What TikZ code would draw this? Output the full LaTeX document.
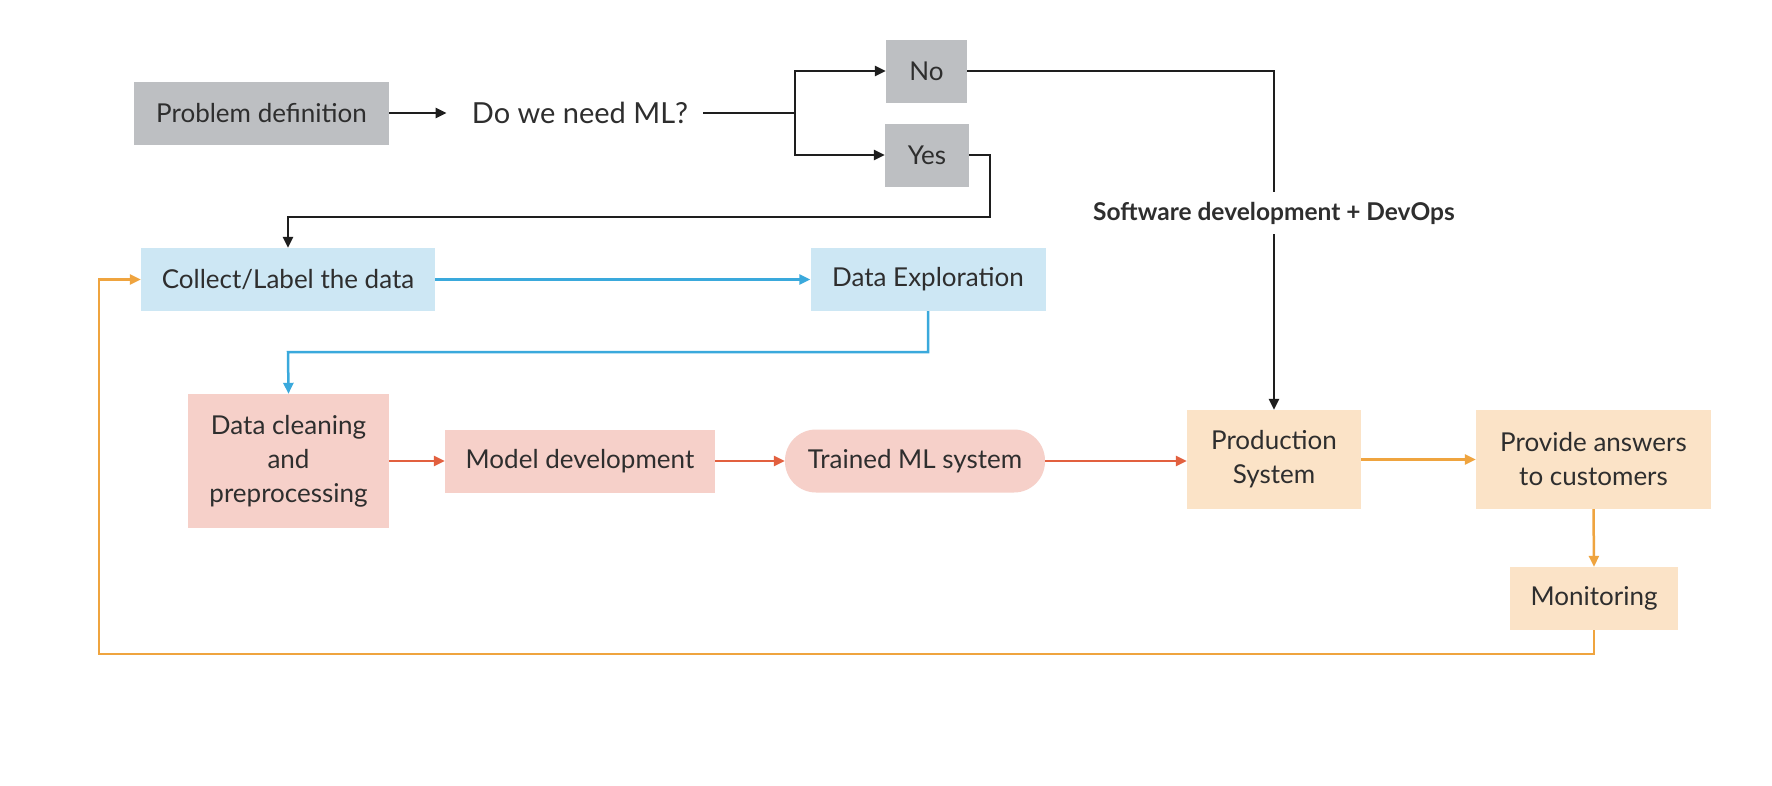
\documentclass[tikz,border=0pt]{standalone}
\usepackage{fontspec}
\setmainfont{Lato}
\usetikzlibrary{arrows.meta}
\definecolor{grayfill}{HTML}{BDBFC2}
\definecolor{bluefill}{HTML}{CDE7F4}
\definecolor{pinkfill}{HTML}{F6D0C9}
\definecolor{peachfill}{HTML}{FBE3C7}
\definecolor{bluearrow}{HTML}{3AA9DC}
\definecolor{redarrow}{HTML}{E2603F}
\definecolor{orangearrow}{HTML}{EFA43F}
\definecolor{txt}{HTML}{2E2E2E}
\definecolor{darkline}{HTML}{1E1E1E}
\tikzset{
  box/.style={rectangle, inner sep=0pt, align=center, text=txt,
    font=\fontsize{26}{34}\selectfont},
  conn/.style={line width=2.5pt, -{Triangle[length=11pt,width=10pt]}},
  plain/.style={line width=2.5pt},
}
\begin{document}
\begin{tikzpicture}[x=1pt,y=-1pt]
\useasboundingbox (0,0) rectangle (1772,785);
\fill[white] (0,0) rectangle (1772,785);
% nodes
\node[box, fill=grayfill, minimum width=255pt, minimum height=63pt] (pd) at (261.5,113) {Problem definition};
\node[box, font=\fontsize{29}{34}\selectfont, text=txt] (q) at (580,113) {Do we need ML?};
\node[box, fill=grayfill, minimum width=81pt, minimum height=63pt] (no) at (926.5,71) {No};
\node[box, fill=grayfill, minimum width=84pt, minimum height=63pt] (yes) at (927,155) {Yes};
\node[box, fill=bluefill, minimum width=294pt, minimum height=63pt] (collect) at (288,279.5) {Collect/Label the data};
\node[box, fill=bluefill, minimum width=235pt, minimum height=63pt] (explore) at (928,279.5) {Data Exploration};
\node[box, fill=pinkfill, minimum width=201pt, minimum height=134pt] (clean) at (288.5,461) {Data cleaning\\and\\preprocessing};
\node[box, fill=pinkfill, minimum width=270pt, minimum height=63pt] (model) at (580,461) {Model development};
\node[box, fill=pinkfill, minimum width=260pt, minimum height=63pt, rounded corners=31pt] (trained) at (915,461) {Trained ML system};
\node[box, fill=peachfill, minimum width=174pt, minimum height=99pt] (prod) at (1274,459.5) {Production\\System};
\node[box, fill=peachfill, minimum width=235pt, minimum height=99pt] (answers) at (1593.5,459.5) {Provide answers\\to customers};
\node[box, fill=peachfill, minimum width=168pt, minimum height=63pt] (mon) at (1594,598.5) {Monitoring};
\node[box, font=\bfseries\fontsize{24.5}{28}\selectfont, inner ysep=10pt] (sw) at (1274,213) {Software development + DevOps};
% coordinates
\coordinate (br) at (795,113);
\coordinate (y1) at (990,217);
\coordinate (e1) at (288,352);
\coordinate (lb) at (99,654);
% black connectors
\draw[conn, darkline, shorten >=25pt] (pd.east) -- (q.west);
\draw[plain, darkline, shorten <=15pt] (q.east) -- (br);
\draw[conn, darkline] (br) |- (no.west);
\draw[conn, darkline] (br) |- (yes.west);
\draw[conn, darkline] (yes.east) -| (y1) -| (collect.north);
\draw[plain, darkline] (no.east) -| (sw.north);
\draw[conn, darkline] (sw.south) -- (prod.north);
% blue
\draw[conn, bluearrow] (collect.east) -- (explore.west);
\draw[conn, bluearrow] (explore.south) |- (e1) -- (clean.north);
% red
\draw[conn, redarrow] (clean.east |- model.west) -- (model.west);
\draw[conn, redarrow] (model.east) -- (trained.west);
\draw[conn, redarrow] (trained.east) -- (prod.west |- trained.east);
% orange
\draw[conn, orangearrow] (prod.east) -- (answers.west);
\draw[conn, orangearrow] (answers.south) -- (mon.north);
\draw[conn, orangearrow] (mon.south) |- (lb) |- (collect.west);
\end{tikzpicture}
\end{document}
